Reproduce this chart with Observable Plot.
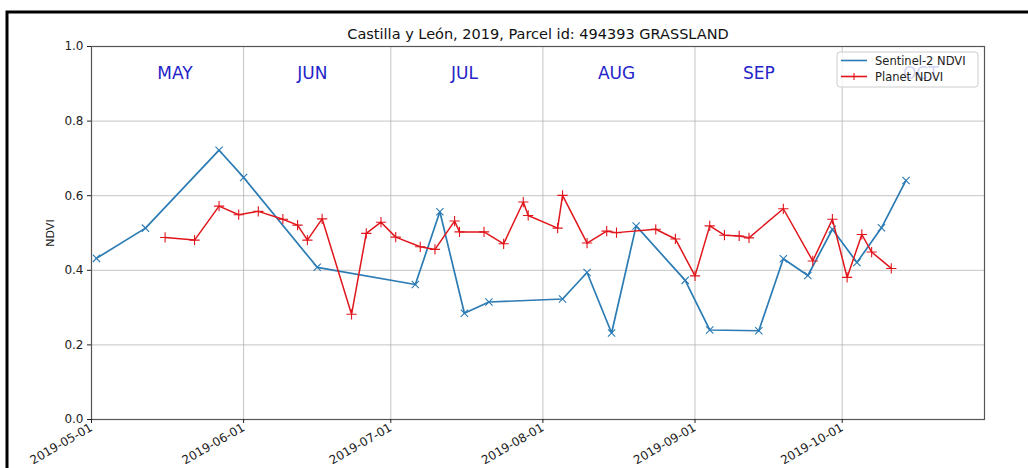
<!DOCTYPE html>
<html>
<head>
<meta charset="utf-8">
<script src="https://cdn.jsdelivr.net/npm/d3@7"></script>
<script src="https://cdn.jsdelivr.net/npm/@observablehq/plot@0.6"></script>
<style>
  body { margin: 0; background: #fff; }
  #chart svg { display: block; }
</style>
</head>
<body>
<div id="chart"></div>
<script>
// Sentinel-2 acquisitions (5-day revisit) and their parcel-mean NDVI
const s2Dates = [
  "2019-05-02", "2019-05-12", "2019-05-27", "2019-06-01", "2019-06-16",
  "2019-07-06", "2019-07-11", "2019-07-16", "2019-07-21", "2019-08-05",
  "2019-08-10", "2019-08-15", "2019-08-20", "2019-08-30", "2019-09-04",
  "2019-09-14", "2019-09-19", "2019-09-24", "2019-09-29", "2019-10-04",
  "2019-10-09", "2019-10-14"
];
const s2Ndvi = [
  0.432, 0.513, 0.722, 0.649, 0.408,
  0.362, 0.557, 0.285, 0.315, 0.323,
  0.394, 0.232, 0.519, 0.373, 0.240,
  0.238, 0.431, 0.386, 0.510, 0.421,
  0.514, 0.641
];

// PlanetScope acquisitions and their parcel-mean NDVI
const planetDates = [
  "2019-05-16", "2019-05-22", "2019-05-27", "2019-05-31", "2019-06-04",
  "2019-06-09", "2019-06-12", "2019-06-14", "2019-06-17", "2019-06-23",
  "2019-06-26", "2019-06-29", "2019-07-02", "2019-07-07", "2019-07-10",
  "2019-07-14", "2019-07-15", "2019-07-20", "2019-07-24", "2019-07-28",
  "2019-07-29", "2019-08-04", "2019-08-05", "2019-08-10", "2019-08-14",
  "2019-08-16", "2019-08-24", "2019-08-28", "2019-09-01", "2019-09-04",
  "2019-09-07", "2019-09-10", "2019-09-12", "2019-09-19", "2019-09-25",
  "2019-09-29", "2019-10-02", "2019-10-05", "2019-10-07", "2019-10-11"
];
const planetNdvi = [
  0.488, 0.481, 0.572, 0.549, 0.558,
  0.537, 0.521, 0.481, 0.538, 0.282,
  0.499, 0.529, 0.489, 0.463, 0.456,
  0.532, 0.503, 0.503, 0.471, 0.583,
  0.547, 0.513, 0.601, 0.473, 0.505,
  0.501, 0.510, 0.484, 0.385, 0.519,
  0.494, 0.492, 0.487, 0.565, 0.425,
  0.537, 0.381, 0.496, 0.449, 0.405
];

// Axis ticks and month captions (each caption sits near the middle of its month)
const monthStarts = ["2019-05-01", "2019-06-01", "2019-07-01", "2019-08-01", "2019-09-01", "2019-10-01"];
const monthNames = ["MAY", "JUN", "JUL", "AUG", "SEP", "OCT"];
const monthCaptionDates = ["2019-05-18", "2019-06-15", "2019-07-16", "2019-08-16", "2019-09-14", "2019-10-17"];
const yTicks = [0, 0.2, 0.4, 0.6, 0.8, 1.0];
const xDomain = ["2019-05-01", "2019-10-30"];

const titleText = "Castilla y León, 2019, Parcel id: 494393 GRASSLAND";
const seriesNames = ["Sentinel-2 NDVI", "Planet NDVI"];

const BLUE = "#2b7bb4";
const RED = "#e0161c";
const MONTH_BLUE = "#2424c8";

const parse = d3.utcParse("%Y-%m-%d");
const s2 = s2Dates.map((d, i) => ({ date: parse(d), ndvi: s2Ndvi[i] }));
const planet = planetDates.map((d, i) => ({ date: parse(d), ndvi: planetNdvi[i] }));
const monthTicks = monthStarts.map(parse);
const months = monthNames.map((name, i) => ({ date: parse(monthCaptionDates[i]), name }));

const chart = Plot.plot({
  width: 1028,
  height: 468,
  marginLeft: 91,
  marginRight: 44,
  marginTop: 46,
  marginBottom: 49,
  style: { fontFamily: "DejaVu Sans", fontSize: "12px", background: "white", color: "#222", overflow: "visible" },
  x: { type: "utc", domain: xDomain.map(parse) },
  y: { domain: [0, 1] },
  marks: [
    Plot.gridX(monthTicks, { stroke: "#b0b0b0", strokeOpacity: 0.75, strokeWidth: 1 }),
    Plot.gridY(yTicks, { stroke: "#b0b0b0", strokeOpacity: 0.75, strokeWidth: 1 }),
    Plot.frame({ stroke: "#555", strokeWidth: 1.2 }),
    Plot.axisX(monthTicks, {
      tickFormat: d3.utcFormat("%Y-%m-%d"),
      tickRotate: -30,
      tickSize: 4,
      tickPadding: 3,
      label: null
    }),
    Plot.axisY(yTicks, { tickFormat: ".1f", tickSize: 4, tickPadding: 4, label: null }),
    Plot.text(["NDVI"], { frameAnchor: "left", dx: -41, rotate: -90, textAnchor: "middle", lineAnchor: "middle", fontSize: 11 }),
    Plot.text([titleText], { frameAnchor: "top", lineAnchor: "middle", dy: -12, fontSize: 14.5, fill: "#111" }),
    Plot.text(months, { x: "date", frameAnchor: "top", lineAnchor: "middle", dy: 27.5, text: "name", fill: MONTH_BLUE, fontSize: 17 }),
    Plot.line(s2, { x: "date", y: "ndvi", stroke: BLUE, strokeWidth: 1.7 }),
    Plot.dot(s2, { x: "date", y: "ndvi", symbol: "times", r: 3.4, stroke: BLUE, strokeWidth: 1.1 }),
    Plot.line(planet, { x: "date", y: "ndvi", stroke: RED, strokeWidth: 1.5 }),
    Plot.dot(planet, { x: "date", y: "ndvi", symbol: "plus", r: 3.4, stroke: RED, strokeWidth: 1.1 })
  ]
});

document.getElementById("chart").appendChild(chart);

// Legend box in the upper-right corner of the plot area, and the figure border
const svg = d3.select(chart);
const lg = svg.append("g").attr("transform", "translate(837,52)");
lg.append("rect")
  .attr("width", 141).attr("height", 35).attr("rx", 3)
  .attr("fill", "white").attr("fill-opacity", 0.8)
  .attr("stroke", "#cccccc").attr("stroke-width", 1);
const colors = [BLUE, RED];
seriesNames.forEach((name, i) => {
  const y = 8.5 + i * 16;
  lg.append("line").attr("x1", 4).attr("x2", 30).attr("y1", y).attr("y2", y)
    .attr("stroke", colors[i]).attr("stroke-width", 1.6);
  if (i === 1) {
    lg.append("path").attr("d", `M17,${y - 3.5}V${y + 3.5}M13.5,${y}H20.5`)
      .attr("stroke", colors[i]).attr("stroke-width", 1.1);
  }
  lg.append("text").attr("x", 38).attr("y", y).attr("dy", "0.35em")
    .attr("text-anchor", "start")
    .attr("font-family", "DejaVu Sans").attr("font-size", 11.5).attr("fill", "#222")
    .text(name);
});

svg.append("rect")
  .attr("x", 7).attr("y", 12).attr("width", 1100).attr("height", 600)
  .attr("fill", "none").attr("stroke", "#000").attr("stroke-width", 3);
</script>
</body>
</html>
